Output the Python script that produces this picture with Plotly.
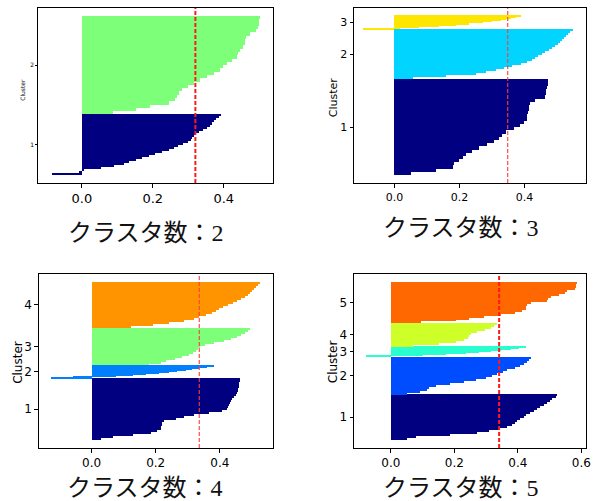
import plotly.graph_objects as go

# ---------------- data ----------------
titles = ["クラスタ数：2", "クラスタ数：3", "クラスタ数：4", "クラスタ数：5"]
avg_scores = [0.32, 0.348, 0.336, 0.341]
cluster_labels = ["1", "2", "3", "4", "5"]

# k = 2
k2_sizes = [61, 99]
k2_c1 = [-0.084, -0.007, 0.007, 0.054, 0.091, 0.119, 0.133, 0.152, 0.170, 0.189,
         0.207, 0.226, 0.245, 0.259, 0.271, 0.287, 0.299, 0.308, 0.312, 0.316,
         0.322, 0.330, 0.342, 0.352, 0.361, 0.367, 0.373, 0.380, 0.386, 0.392]
k2_c2 = [0.087, 0.152, 0.193, 0.245, 0.263, 0.268, 0.273, 0.284, 0.300, 0.317,
         0.333, 0.354, 0.373, 0.389, 0.398, 0.410, 0.423, 0.437, 0.440, 0.445,
         0.454, 0.459, 0.460, 0.463, 0.475, 0.492, 0.496, 0.500, 0.501, 0.503]

# k = 3
k3_sizes = [95, 50, 13]
k3_c1 = [0.050, 0.128, 0.179, 0.184, 0.200, 0.210, 0.220, 0.238, 0.261, 0.286,
         0.306, 0.320, 0.332, 0.344, 0.368, 0.385, 0.398, 0.406, 0.409, 0.411,
         0.413, 0.414, 0.418, 0.432, 0.464, 0.466, 0.467, 0.469, 0.471, 0.472]
k3_c2 = [0.057, 0.159, 0.250, 0.281, 0.312, 0.337, 0.360, 0.388, 0.408, 0.424,
         0.432, 0.442, 0.454, 0.464, 0.475, 0.485, 0.495, 0.503, 0.510, 0.515,
         0.522, 0.527, 0.534, 0.541, 0.548]
k3_c3 = [-0.096, 0.016, 0.077, 0.138, 0.189, 0.230, 0.271, 0.301, 0.327, 0.342,
         0.357, 0.373, 0.388]

# k = 4
k4_sizes = [62, 13, 37, 46]
k4_c1 = [0.029, 0.065, 0.127, 0.184, 0.204, 0.214, 0.216, 0.218, 0.219, 0.225,
         0.261, 0.287, 0.318, 0.364, 0.407, 0.420, 0.424, 0.429, 0.432, 0.434,
         0.438, 0.443, 0.448, 0.453, 0.455, 0.457, 0.458, 0.459, 0.460, 0.461, 0.462]
k4_c2 = [-0.129, -0.059, 0.075, 0.127, 0.168, 0.209, 0.240, 0.266, 0.292, 0.312,
         0.333, 0.359, 0.382]
k4_c3 = [0.178, 0.214, 0.232, 0.258, 0.281, 0.302, 0.314, 0.325, 0.332, 0.338,
         0.352, 0.382, 0.413, 0.434, 0.452, 0.464, 0.478, 0.488, 0.493]
k4_c4 = [0.122, 0.189, 0.240, 0.287, 0.318, 0.335, 0.356, 0.374, 0.387, 0.397,
         0.410, 0.426, 0.440, 0.454, 0.465, 0.477, 0.488, 0.494, 0.500, 0.506,
         0.512, 0.519, 0.525]

# k = 5
k5_sizes = [46, 37, 10, 24, 41]
k5_c1 = [0.051, 0.080, 0.185, 0.273, 0.310, 0.343, 0.366, 0.381, 0.391, 0.399,
         0.407, 0.418, 0.427, 0.438, 0.451, 0.461, 0.470, 0.483, 0.493, 0.500,
         0.508, 0.520, 0.525]
k5_c2 = [0.051, 0.091, 0.114, 0.120, 0.141, 0.185, 0.232, 0.268, 0.300, 0.318,
         0.336, 0.354, 0.367, 0.391, 0.407, 0.420, 0.430, 0.435, 0.441]
k5_c3 = [-0.078, 0.101, 0.174, 0.237, 0.279, 0.315, 0.347, 0.378, 0.404, 0.425]
k5_c4 = [0.070, 0.153, 0.206, 0.230, 0.242, 0.246, 0.253, 0.273, 0.297, 0.315,
         0.326, 0.333]
k5_c5 = [0.096, 0.206, 0.247, 0.294, 0.347, 0.391, 0.412, 0.425, 0.427, 0.429,
         0.441, 0.492, 0.495, 0.503, 0.529, 0.550, 0.555, 0.579, 0.582, 0.584, 0.585]

# ---------------- styling / layout ----------------
panels = [
    dict(sizes=k2_sizes, profiles=[k2_c1, k2_c2],
         colors=["#000080", "#7dff7a"]),
    dict(sizes=k3_sizes, profiles=[k3_c1, k3_c2, k3_c3],
         colors=["#000080", "#00d4ff", "#ffe600"]),
    dict(sizes=k4_sizes, profiles=[k4_c1, k4_c2, k4_c3, k4_c4],
         colors=["#000080", "#0080ff", "#7dff7a", "#ff9400"]),
    dict(sizes=k5_sizes, profiles=[k5_c1, k5_c2, k5_c3, k5_c4, k5_c5],
         colors=["#000080", "#004dff", "#29ffce", "#ceff29", "#ff6800"]),
]

W, H = 605, 501
# frame boxes in pixels: (left, right, top, bottom)
frames = [(38.5, 275, 8, 183), (357, 591, 8, 183), (39, 275, 274, 448), (357, 591, 274, 448)]
xranges = [[-0.123, 0.538], [-0.124, 0.589], [-0.165, 0.565], [-0.116, 0.615]]
xticks = [[0, 0.2, 0.4], [0, 0.2, 0.4], [0, 0.2, 0.4], [0, 0.2, 0.4, 0.6]]
xtick_fs = [13, 11, 12, 12]
ytick_fs = [6, 11, 12, 12]
ylab_fs = [6, 11, 12, 12]
ylab_pos = [(23, 90), (336, 97), (18, 362), (336, 362)]
title_pos = [(147, 233), (465, 228), (146, 488), (465, 488)]
line_style = [dict(w=2, c="#ff1a1a"), dict(w=1.3, c="rgba(255,60,60,0.85)"),
              dict(w=1.3, c="rgba(255,60,60,0.85)"), dict(w=2, c="#ff1a1a")]

fig = go.Figure()
annotations = []
shapes = []
layout_axes = {}

for p, panel in enumerate(panels):
    ax = "" if p == 0 else str(p + 1)
    xref, yref = "x" + ax, "y" + ax
    y_lower = 0.0
    tickvals = []
    for c, (size, vals, col) in enumerate(zip(panel["sizes"], panel["profiles"], panel["colors"])):
        h = size / len(vals)
        ys = [y_lower + (i + 0.5) * h for i in range(len(vals))]
        fig.add_trace(go.Bar(x=vals, y=ys, width=h, orientation="h", base=0,
                             marker=dict(color=col, line=dict(width=0)),
                             xaxis=xref, yaxis=yref, showlegend=False, hoverinfo="x"))
        tickvals.append(y_lower + size / 2)
        y_lower += size
    N = y_lower
    l, r, t, b = frames[p]
    layout_axes["xaxis" + ax] = dict(
        domain=[l / W, r / W], anchor=yref, range=xranges[p],
        tickvals=xticks[p], ticktext=["%.1f" % v for v in xticks[p]],
        ticks="outside", ticklen=3.5, tickwidth=1, tickcolor="black",
        showline=True, linecolor="black", linewidth=1, mirror=True,
        showgrid=False, zeroline=False,
        tickfont=dict(family="DejaVu Sans", size=xtick_fs[p], color="black"))
    layout_axes["yaxis" + ax] = dict(
        domain=[1 - b / H, 1 - t / H], anchor=xref, range=[-0.05 * N, 1.05 * N],
        tickvals=tickvals, ticktext=cluster_labels[:len(tickvals)],
        ticks="outside", ticklen=3.5 if p else 2, tickwidth=1, tickcolor="black",
        showline=True, linecolor="black", linewidth=1, mirror=True,
        showgrid=False, zeroline=False,
        tickfont=dict(family="DejaVu Sans", size=ytick_fs[p], color="black"))
    shapes.append(dict(type="line", xref=xref, yref=yref + " domain",
                       x0=avg_scores[p], x1=avg_scores[p], y0=0, y1=1,
                       line=dict(color=line_style[p]["c"], width=line_style[p]["w"], dash="4px,2px"),
                       layer="above"))
    annotations.append(dict(text="Cluster", xref="paper", yref="paper",
                            x=ylab_pos[p][0] / W, y=1 - ylab_pos[p][1] / H,
                            xanchor="center", yanchor="middle", textangle=-90, showarrow=False,
                            font=dict(family="DejaVu Sans", size=ylab_fs[p], color="black")))
    annotations.append(dict(text=titles[p], xref="paper", yref="paper",
                            x=title_pos[p][0] / W, y=1 - title_pos[p][1] / H,
                            xanchor="center", yanchor="middle", showarrow=False,
                            font=dict(family="Liberation Serif, Noto Sans CJK JP", size=24, color="#111111")))

fig.update_layout(width=W, height=H, margin=dict(l=0, r=0, t=0, b=0),
                  paper_bgcolor="white", plot_bgcolor="white", barmode="overlay",
                  bargap=0, shapes=shapes, annotations=annotations, **layout_axes)

fig.write_html("out.html")
